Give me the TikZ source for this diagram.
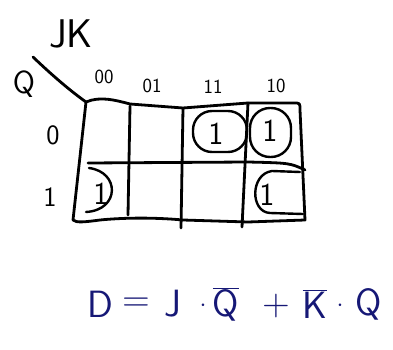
\documentclass[tikz,border=0pt]{standalone}
\usetikzlibrary{positioning}
\definecolor{inkblue}{RGB}{22,24,118}

\begin{document}
\begin{tikzpicture}[
	x=1pt, y=-1pt,
	font=\sffamily,
	grid/.style={line width=2.8pt, line cap=round, line join=round},
	loop/.style={line width=2.4pt, line cap=round, rounded corners=19pt},
	half/.style={line width=2.4pt, line cap=round},
	cell/.style={font=\sffamily\fontsize{32}{32}\selectfont, inner sep=0pt},
	collbl/.style={font=\sffamily\fontsize{20}{20}\selectfont, inner sep=0pt},
	rowlbl/.style={font=\sffamily\fontsize{28}{28}\selectfont, inner sep=0pt},
	varlbl/.style={font=\sffamily\fontsize{40}{40}\selectfont, inner sep=0pt},
	eqn/.style={font=\sffamily\fontsize{38}{38}\selectfont, text=inkblue, inner sep=0pt},
]
\useasboundingbox (0,0) rectangle (393,350);

% --- Variablen ---
\node[varlbl] (jk) at (71,34) {JK};
\node[varlbl, font=\sffamily\fontsize{32}{32}\selectfont] (q) at (24,84) {Q};
\draw[grid] (33,57) .. controls (55,78) and (72,92) .. (86,102);

% --- Spaltenkoepfe ---
\node[collbl] (c00) at (104,77) {00};
\node[collbl] (c01) at (152,86) {01};
\node[collbl] (c11) at (213,87) {11};
\node[collbl] (c10) at (276,86) {10};

% --- Zeilenkoepfe ---
\node[rowlbl] (r0) at (53,135) {0};
\node[rowlbl] (r1) at (50,197) {1};

% --- Rahmen und Gitter ---
\draw[grid] (86,102) .. controls (100,96) and (115,100) .. (130,104)
	-- (183,108) -- (248,103) -- (294,103) .. controls (300,103) .. (300,110)
	-- (305,220) -- (248,222) -- (183,220)
	.. controls (150,217) and (120,218) .. (100,220)
	.. controls (85,222) and (76,223) .. (73,220) -- cycle;
\draw[grid] (88,163) -- (248,162) .. controls (290,163) .. (305,170);
\draw[grid] (130,106) -- (128,215);
\draw[grid] (183,108) -- (181,228);
\draw[grid] (248,103) -- (242,227);

% --- Einsen ---
\node[cell] (m3) at (216,134) {1};
\node[cell] (m2) at (270,131) {1};
\node[cell] (m4) at (101,194) {1};
\node[cell] (m6) at (267,195) {1};

% --- Bloecke ---
\draw[loop] (193,111) rectangle (247,152);
\draw[loop, rounded corners=20pt] (250,108) rectangle (291,157);
\draw[half] (89,168) .. controls (120,172) and (120,210) .. (86,212);
\draw[half] (300,172) -- (272,171) .. controls (250,174) and (250,212) .. (270,213) -- (303,214);

% --- Gleichung ---
\node[eqn] (eqD)  at (100,304) {D};
\node[eqn] (eqIs) at (136,305) {=};
\node[eqn] (eqJ)  at (173,304) {J};
\node[eqn] (eqM1) at (203,306) {$\cdot$};
\node[eqn] (eqQn) at (226,304) {$\overline{\mbox{Q}}$};
\node[eqn] (eqP)  at (276,306) {+};
\node[eqn] (eqKn) at (315,304) {$\overline{\mbox{K}}$};
\node[eqn] (eqM2) at (340,306) {$\cdot$};
\node[eqn] (eqQ)  at (369,304) {Q};

\end{tikzpicture}
\end{document}
